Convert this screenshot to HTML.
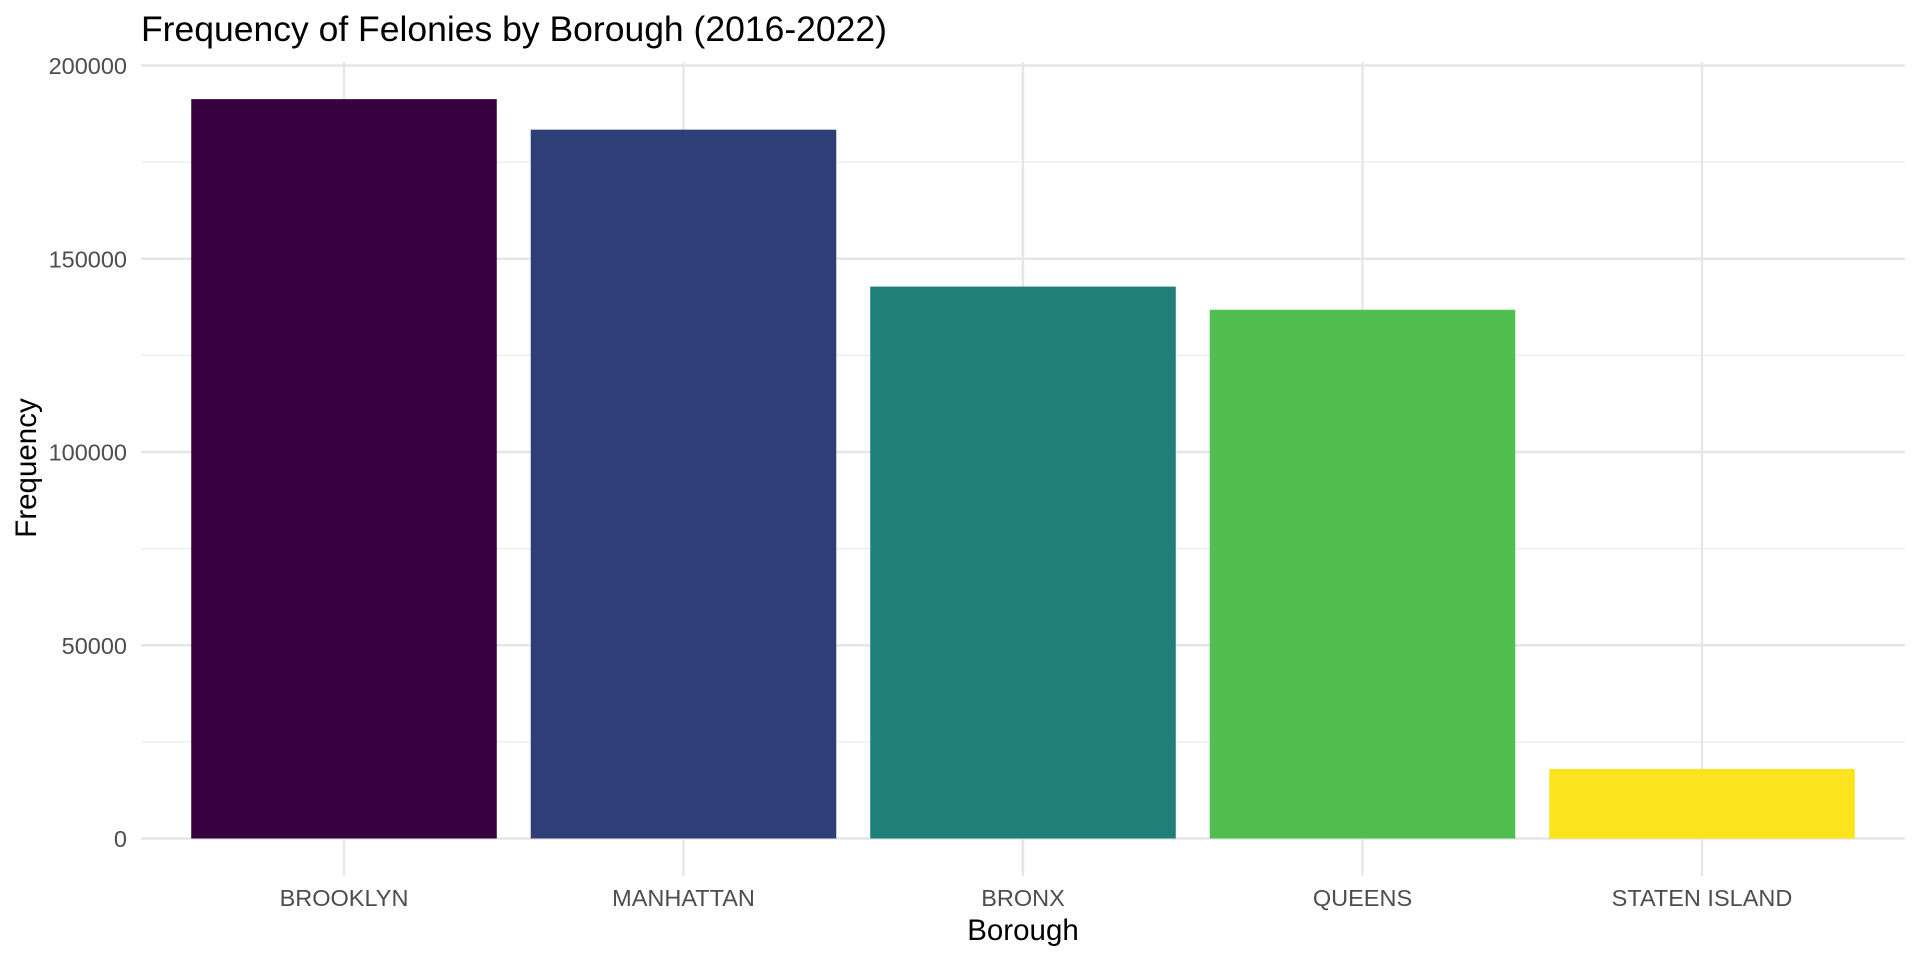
<!DOCTYPE html>
<html><head><meta charset="utf-8"><style>
html,body{margin:0;padding:0;background:#fff;}
svg{display:block;font-family:"Liberation Sans",Arial,sans-serif;}
</style></head><body>
<svg id="chart" width="1920" height="960" viewBox="0 0 1920 960">
<text x="141" y="41" font-size="35.5" fill="#000">Frequency of Felonies by Borough (2016-2022)</text>
<g id="grid"></g>
<g id="bars"></g>
<g id="yticks"></g>
<g id="xticks"></g>
<text x="1023" y="940" font-size="29.5" text-anchor="middle" fill="#000">Borough</text>
<text transform="translate(36,468) rotate(-90)" font-size="29.5" text-anchor="middle" fill="#000">Frequency</text>
</svg>
<script>
const categories = ["BROOKLYN","MANHATTAN","BRONX","QUEENS","STATEN ISLAND"];
const values = [191300, 183400, 142800, 136800, 18000];
const colors = ["#370140","#2E3F77","#1F807A","#50BF50","#FBE31E"];
const yTicks = [0, 50000, 100000, 150000, 200000];
const yTickLabels = ["0","50000","100000","150000","200000"];

const NS = "http://www.w3.org/2000/svg";
const panelL = 141, panelR = 1905, panelT = 62, panelB = 876;
const y0 = 838.5, y200k = 65.5;
function y(v){ return y0 - (v/200000)*(y0 - y200k); }
const firstX = 344, step = 339.5;
function x(i){ return firstX + i*step; }
const bw = step*0.9;

function mk(tag, attrs, parent){
  const e = document.createElementNS(NS, tag);
  for (const k in attrs) e.setAttribute(k, attrs[k]);
  parent.appendChild(e);
  return e;
}
const grid = document.getElementById("grid");
const bars = document.getElementById("bars");
const yt = document.getElementById("yticks");
const xt = document.getElementById("xticks");

for (let i = 0; i < yTicks.length - 1; i++) {
  const v = (yTicks[i] + yTicks[i+1]) / 2;
  const l = mk("line", {x1:panelL, x2:panelR, y1:y(v), y2:y(v), stroke:"#ebebeb", "stroke-width":1.2}, grid);
  
  
}
yTicks.forEach((v, i) => {
  const l = mk("line", {x1:panelL, x2:panelR, y1:y(v), y2:y(v), stroke:"#e6e6e6", "stroke-width":2.4}, grid);
  
  
  const t = mk("text", {x:127, y:y(v)+8.5, "font-size":23.5, "text-anchor":"end", fill:"#4d4d4d"}, yt);
  t.textContent = yTickLabels[i];
  
  
});
categories.forEach((c, i) => {
  const l = mk("line", {x1:x(i), x2:x(i), y1:panelT, y2:panelB, stroke:"#e6e6e6", "stroke-width":2.4}, grid);
  
  
});
categories.forEach((c, i) => {
  const r = mk("rect", {x:x(i)-bw/2, y:y(values[i]), width:bw, height:y(0)-y(values[i]), fill:colors[i]}, bars);
  
  
  const t = mk("text", {x:x(i), y:906, "font-size":23.5, "text-anchor":"middle", fill:"#4d4d4d"}, xt);
  t.textContent = c;
  
  
});
</script>
</body></html>
